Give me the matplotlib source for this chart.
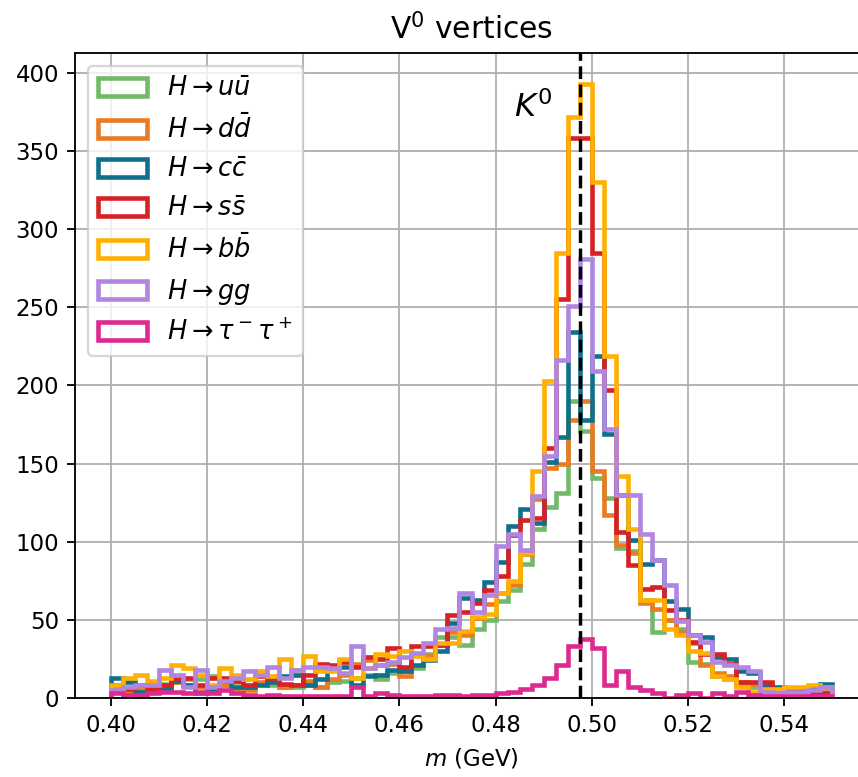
import numpy as np
import matplotlib
matplotlib.use("Agg")
import matplotlib.pyplot as plt

# binning: 60 bins of 2.5 MeV between 0.40 and 0.55 GeV
edges = np.linspace(0.40, 0.55, 61)
centers = 0.5 * (edges[1:] + edges[:-1])
k0_mass = 0.497611

labels = [r"$H\rightarrow u\bar{u}$", r"$H\rightarrow d\bar{d}$", r"$H\rightarrow c\bar{c}$",
          r"$H\rightarrow s\bar{s}$", r"$H\rightarrow b\bar{b}$", r"$H\rightarrow gg$",
          r"$H\rightarrow \tau^-\tau^+$"]
colors = ["#74b86a", "#e87b24", "#10708c", "#d62125", "#ffb000", "#b086e0", "#dd2a90"]

# counts per bin
uu = [5, 3, 5, 7, 9, 10, 12, 12, 14, 8, 10, 7, 9, 8, 7, 7, 8, 7, 10, 11,
      13, 15, 12, 16, 17, 19, 28, 39, 39, 34, 44, 50, 62, 69, 86, 108, 122, 131, 190, 171,
      141, 128, 96, 94, 63, 42, 50, 44, 23, 22, 14, 12, 8, 7, 6, 5, 5, 4, 4, 3]
dd = [6, 4, 5, 5, 6, 10, 8, 7, 6, 8, 6, 5, 10, 11, 7, 8, 11, 7, 12, 15,
      22, 24, 21, 22, 14, 28, 27, 34, 42, 40, 51, 60, 67, 72, 92, 127, 147, 150, 178, 190,
      145, 117, 98, 93, 61, 57, 50, 42, 35, 21, 16, 14, 10, 9, 6, 5, 5, 5, 4, 4]
cc = [13, 10, 4, 4, 6, 11, 8, 3, 6, 11, 7, 7, 8, 10, 14, 15, 8, 12, 18, 20,
      8, 14, 15, 18, 17, 21, 24, 30, 48, 64, 63, 74, 87, 110, 121, 112, 151, 167, 234, 178,
      219, 169, 130, 101, 86, 88, 62, 57, 40, 39, 26, 25, 17, 16, 8, 7, 6, 6, 7, 9]
ss = [8, 6, 8, 6, 8, 12, 13, 8, 13, 13, 11, 8, 14, 13, 9, 8, 15, 22, 21, 23,
      20, 26, 25, 32, 20, 33, 33, 34, 53, 55, 61, 69, 78, 104, 114, 115, 160, 255, 358, 358,
      285, 197, 106, 85, 70, 71, 56, 50, 36, 28, 28, 22, 10, 10, 10, 6, 5, 4, 4, 3]
bb = [8, 13, 15, 11, 13, 21, 19, 15, 8, 19, 15, 12, 17, 14, 25, 18, 27, 17, 17, 25,
      13, 19, 28, 27, 30, 27, 25, 35, 35, 43, 52, 54, 67, 75, 93, 145, 203, 285, 372, 393,
      330, 219, 142, 108, 63, 63, 44, 40, 30, 29, 14, 12, 7, 4, 6, 6, 7, 7, 8, 7]
gg = [5, 7, 8, 8, 18, 15, 7, 18, 7, 11, 13, 17, 15, 20, 13, 18, 20, 20, 19, 16,
      33, 19, 21, 23, 26, 29, 35, 44, 45, 67, 55, 66, 97, 105, 95, 129, 155, 216, 251, 281,
      209, 172, 130, 130, 105, 88, 72, 49, 40, 36, 23, 21, 20, 17, 4, 3, 4, 4, 5, 7]
tautau = [3, 2, 2, 3, 4, 4, 3, 4, 3, 5, 3, 2, 1, 2, 1, 1, 1, 1, 1, 1,
          7, 1, 3, 2, 1, 1, 1, 2, 2, 1, 2, 2, 3, 4, 6, 8, 13, 21, 33, 38,
          32, 8, 17, 7, 5, 3, 0, 2, 3, 0, 3, 1, 4, 2, 1, 1, 1, 1, 1, 1]

series = [uu, dd, cc, ss, bb, gg, tautau]

fig = plt.figure(figsize=(858 / 165, 777 / 165), dpi=165)
ax = fig.add_axes([75 / 858, 79 / 777, 793 / 858, 645 / 777])

for counts, lab, col in zip(series, labels, colors):
    ax.hist(centers, bins=edges, weights=counts, histtype="step",
            color=col, linewidth=2, label=lab)

ax.axvline(k0_mass, color="black", linestyle="--", linewidth=1.5)
ax.text(0.4838, 378, r"$K^0$", fontsize=14, ha="left", va="center")

ax.set_xticks(np.arange(0.40, 0.541, 0.02))
ax.grid(True)
ax.set_xlabel(r"$m$ (GeV)")
ax.set_title(r"V$^0$ vertices", fontsize=13)
ax.legend(loc="upper left", fontsize=11.2, handlelength=1.9)

fig.savefig("out.png", dpi=165)
